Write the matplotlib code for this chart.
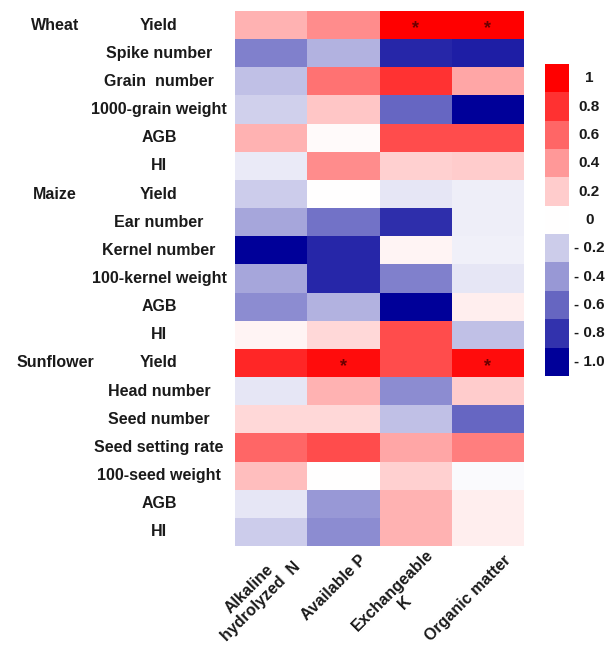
import numpy as np
import matplotlib
matplotlib.use("Agg")
import matplotlib.pyplot as plt
from matplotlib.colors import LinearSegmentedColormap
from matplotlib.transforms import blended_transform_factory, offset_copy

plt.rcParams['font.family'] = ['Liberation Sans', 'DejaVu Sans']
plt.rcParams['font.weight'] = 'bold'

# Traits (rows) and soil properties (columns)
traits = ["Yield", "Spike number", "Grain  number", "1000-grain weight", "AGB", "HI",
          "Yield", "Ear number", "Kernel number", "100-kernel weight", "AGB", "HI",
          "Yield", "Head number", "Seed number", "Seed setting rate", "100-seed weight",
          "AGB", "HI"]
crops = ["Wheat", "Maize", "Sunflower"]
crop_rows = [0, 6, 12]
soil = ["Alkaline\nhydrolyzed  N", "Available P", "Exchangeable\nK", "Organic matter"]

# correlation coefficients, one list per trait
corr = [
    [0.30, 0.45, 1.00, 1.00],
    [-0.50, -0.30, -0.85, -0.88],
    [-0.25, 0.55, 0.80, 0.35],
    [-0.18, 0.22, -0.60, -1.00],
    [0.30, 0.02, 0.70, 0.70],
    [-0.08, 0.45, 0.18, 0.20],
    [-0.20, 0.00, -0.10, -0.07],
    [-0.35, -0.55, -0.82, -0.07],
    [-1.00, -0.85, 0.04, -0.06],
    [-0.35, -0.85, -0.50, -0.10],
    [-0.45, -0.30, -1.00, 0.07],
    [0.04, 0.15, 0.70, -0.25],
    [0.85, 0.95, 0.70, 0.95],
    [-0.10, 0.30, -0.45, 0.20],
    [0.15, 0.15, -0.25, -0.60],
    [0.60, 0.70, 0.35, 0.50],
    [0.25, 0.00, 0.18, -0.02],
    [-0.10, -0.40, 0.30, 0.07],
    [-0.20, -0.45, 0.30, 0.07],
]
# significant cells (row, column)
signif = [(0, 2), (0, 3), (12, 1), (12, 3)]

cbar_levels = [1, 0.8, 0.6, 0.4, 0.2, 0, -0.2, -0.4, -0.6, -0.8, -1.0]
cbar_labels = ["1", "0.8", "0.6", "0.4", "0.2", "0", "- 0.2", "- 0.4", "- 0.6", "- 0.8", "- 1.0"]

cmap = LinearSegmentedColormap.from_list("bwr_navy", [(0, 0, 0.6), (1, 1, 1), (1, 0, 0)])

W, H = 608, 646
fig = plt.figure(figsize=(W / 100, H / 100), dpi=100)
ax = fig.add_axes([235 / W, 1 - 546 / H, (524 - 235) / W, (546 - 11) / H])

data = np.array(corr)
nr, nc = data.shape
ax.pcolormesh(np.arange(nc + 1), np.arange(nr + 1), data, cmap=cmap, vmin=-1, vmax=1)
ax.set_xlim(0, nc)
ax.set_ylim(nr, 0)
for s in ax.spines.values():
    s.set_visible(False)
ax.set_xticks([])
ax.set_yticks([])

for r, c in signif:
    ax.text(c + 0.5, r + 0.62, "*", ha="center", va="center", fontsize=13,
            color="#6a0000", fontweight="bold")

# row labels and crop names
tr = blended_transform_factory(fig.transFigure, ax.transData)
for i, t in enumerate(traits):
    ax.text(159 / W, i + 0.5, t, transform=tr, ha="center", va="center",
            fontsize=11.5, color="#1a1a1a")
for name, r in zip(crops, crop_rows):
    ax.text(55 / W, r + 0.5, name, transform=tr, ha="center", va="center",
            fontsize=11.5, color="#1a1a1a")

# slanted column labels just under the grid
lab_tr = offset_copy(ax.transData, fig=fig, x=21, y=-12, units="dots")
for j, s in enumerate(soil):
    ax.text(j + 0.5, nr, s, transform=lab_tr, rotation=45, ha="right", va="center",
            rotation_mode="anchor", multialignment="center",
            fontsize=11.5, color="#1a1a1a")

# discrete colour key
cax = fig.add_axes([545 / W, 1 - 376 / H, 24 / W, (376 - 64) / H])
cax.imshow(np.array(cbar_levels).reshape(-1, 1), cmap=cmap, vmin=-1, vmax=1,
           aspect="auto", extent=(0, 1, len(cbar_levels), 0))
cax.set_xticks([])
cax.set_yticks([])
for s in cax.spines.values():
    s.set_visible(False)
for i, lab in enumerate(cbar_labels):
    cax.text(1.85, i + 0.5, lab, ha="center", va="center", fontsize=11,
             color="#1a1a1a", transform=blended_transform_factory(cax.transAxes, cax.transData))

fig.savefig("out.png", dpi=100)
